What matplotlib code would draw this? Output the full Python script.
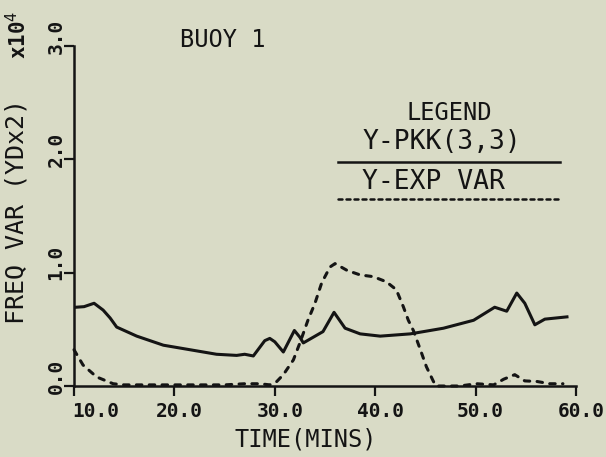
import matplotlib
matplotlib.use("Agg")
import matplotlib.pyplot as plt
import matplotlib.transforms as mtransforms
from matplotlib.lines import Line2D

# --- data (time in minutes, variance x10^4) ---
pkk_time = [10.2, 11.0, 12.0, 12.9, 13.6, 14.25, 16.25, 18.9, 21.55, 24.2,
            26.2, 27.0, 27.86, 29.0, 29.5, 30.0, 30.85, 31.95, 32.5, 32.84,
            34.8, 35.9, 37.0, 38.5, 40.5, 43.5, 46.8, 49.8, 51.9, 53.1,
            54.1, 54.9, 55.9, 56.9, 59.1]
pkk_var = [0.695, 0.70, 0.73, 0.67, 0.60, 0.52, 0.44, 0.36, 0.32, 0.28,
           0.27, 0.28, 0.265, 0.40, 0.42, 0.39, 0.30, 0.49, 0.43, 0.38,
           0.48, 0.65, 0.51, 0.46, 0.44, 0.46, 0.51, 0.58, 0.695, 0.66,
           0.82, 0.73, 0.54, 0.59, 0.61]

exp_time = [10.0, 10.9, 12.25, 13.9, 15.0, 20.0, 25.0, 27.0, 28.5, 29.5,
            30.2, 30.85, 31.85, 32.5, 33.3, 34.0, 34.67, 35.5, 36.0, 37.2,
            38.5, 39.8, 41.1, 42.1, 42.8, 43.3, 43.8, 44.5, 45.1, 45.8,
            46.1, 48.4, 50.1, 51.8, 52.8, 53.9, 54.9, 56.1, 57.4, 58.7]
exp_var = [0.32, 0.185, 0.08, 0.02, 0.01, 0.01, 0.01, 0.02, 0.02, 0.01,
           0.04, 0.10, 0.23, 0.38, 0.58, 0.73, 0.91, 1.05, 1.08, 1.02,
           0.98, 0.965, 0.92, 0.85, 0.70, 0.58, 0.49, 0.32, 0.17, 0.04,
           0.0, 0.0, 0.02, 0.01, 0.06, 0.10, 0.045, 0.04, 0.02, 0.02]

x_ticks = [10, 20, 30, 40, 50, 60]
y_ticks = [0, 1, 2, 3]

BG = '#d9dbc6'
INK = '#141414'
W, H = 606, 457

plt.rcParams['font.family'] = ['DejaVu Sans Mono', 'DejaVu Sans']

fig = plt.figure(figsize=(W / 100, H / 100), dpi=100, facecolor=BG)
# axes box in pixels: x 74..576, y 46..386
ax = fig.add_axes([74 / W, 1 - 386 / H, (576 - 74) / W, (386 - 46) / H])
ax.set_facecolor(BG)


def px(x, y):
    return x / W, 1 - y / H


ax.plot(pkk_time, pkk_var, color=INK, lw=2.2, solid_joinstyle='round',
        clip_on=False, zorder=3)
ax.plot(exp_time, exp_var, color=INK, lw=2.2, linestyle=(0, (1.8, 2.4)),
        dash_capstyle='round', clip_on=False, zorder=3)

ax.set_xlim(10, 60)
ax.set_ylim(0, 3)
for s in ['top', 'right']:
    ax.spines[s].set_visible(False)
for s in ['left', 'bottom']:
    ax.spines[s].set_linewidth(1.8)
    ax.spines[s].set_color(INK)

ax.set_xticks(x_ticks)
ax.set_xticklabels([f"{v:.1f}" for v in x_ticks])
ax.set_yticks(y_ticks)
ax.set_yticklabels([f"{v:.1f}" for v in y_ticks])
ax.tick_params(direction='out', length=7.2, width=1.6, color=INK,
               labelcolor=INK, labelsize=14)
ax.tick_params(axis='x', pad=4)
ax.tick_params(axis='y', pad=-1)

# first x label sits to the right of the axis, the rest slightly right
for i, lab in enumerate(ax.get_xticklabels()):
    lab.set_fontweight('bold')
    dx = 22 if i == 0 else 5
    lab.set_transform(lab.get_transform() +
                      mtransforms.ScaledTranslation(dx / 100, 0, fig.dpi_scale_trans))
for lab in ax.get_yticklabels():
    lab.set_fontweight('bold')
    lab.set_rotation(90)
    lab.set_va('center')
    lab.set_transform(lab.get_transform() +
                      mtransforms.ScaledTranslation(0, 10 / 100, fig.dpi_scale_trans))

# axis labels and titles
fig.text(*px(306, 440), "TIME(MINS)", ha='center', va='center',
         fontsize=17, color=INK)
fig.text(*px(17, 212), "FREQ VAR (YDx2)", ha='center', va='center',
         rotation=90, fontsize=18, color=INK)
fig.text(*px(18, 35), r"x10$^{4}$", ha='center', va='center',
         rotation=90, fontsize=15, fontweight='bold', color=INK)
fig.text(*px(223, 40), "BUOY 1", ha='center', va='center',
         fontsize=17, color=INK)

# hand-drawn style legend
fig.text(*px(449, 113), "LEGEND", ha='center', va='center',
         fontsize=17, color=INK)
fig.text(*px(363, 142), "Y-PKK(3,3)", ha='left', va='center',
         fontsize=19, color=INK)
fig.add_artist(Line2D([338 / W, 560 / W], [1 - 162 / H] * 2, color=INK, lw=1.8))
fig.text(*px(362, 182), "Y-EXP VAR", ha='left', va='center',
         fontsize=19, color=INK)
fig.add_artist(Line2D([338 / W, 560 / W], [1 - 199 / H] * 2, color=INK, lw=1.8,
                      linestyle=(0, (1.6, 1.6)), dash_capstyle='round'))

fig.savefig("out.png", dpi=100, facecolor=BG)
